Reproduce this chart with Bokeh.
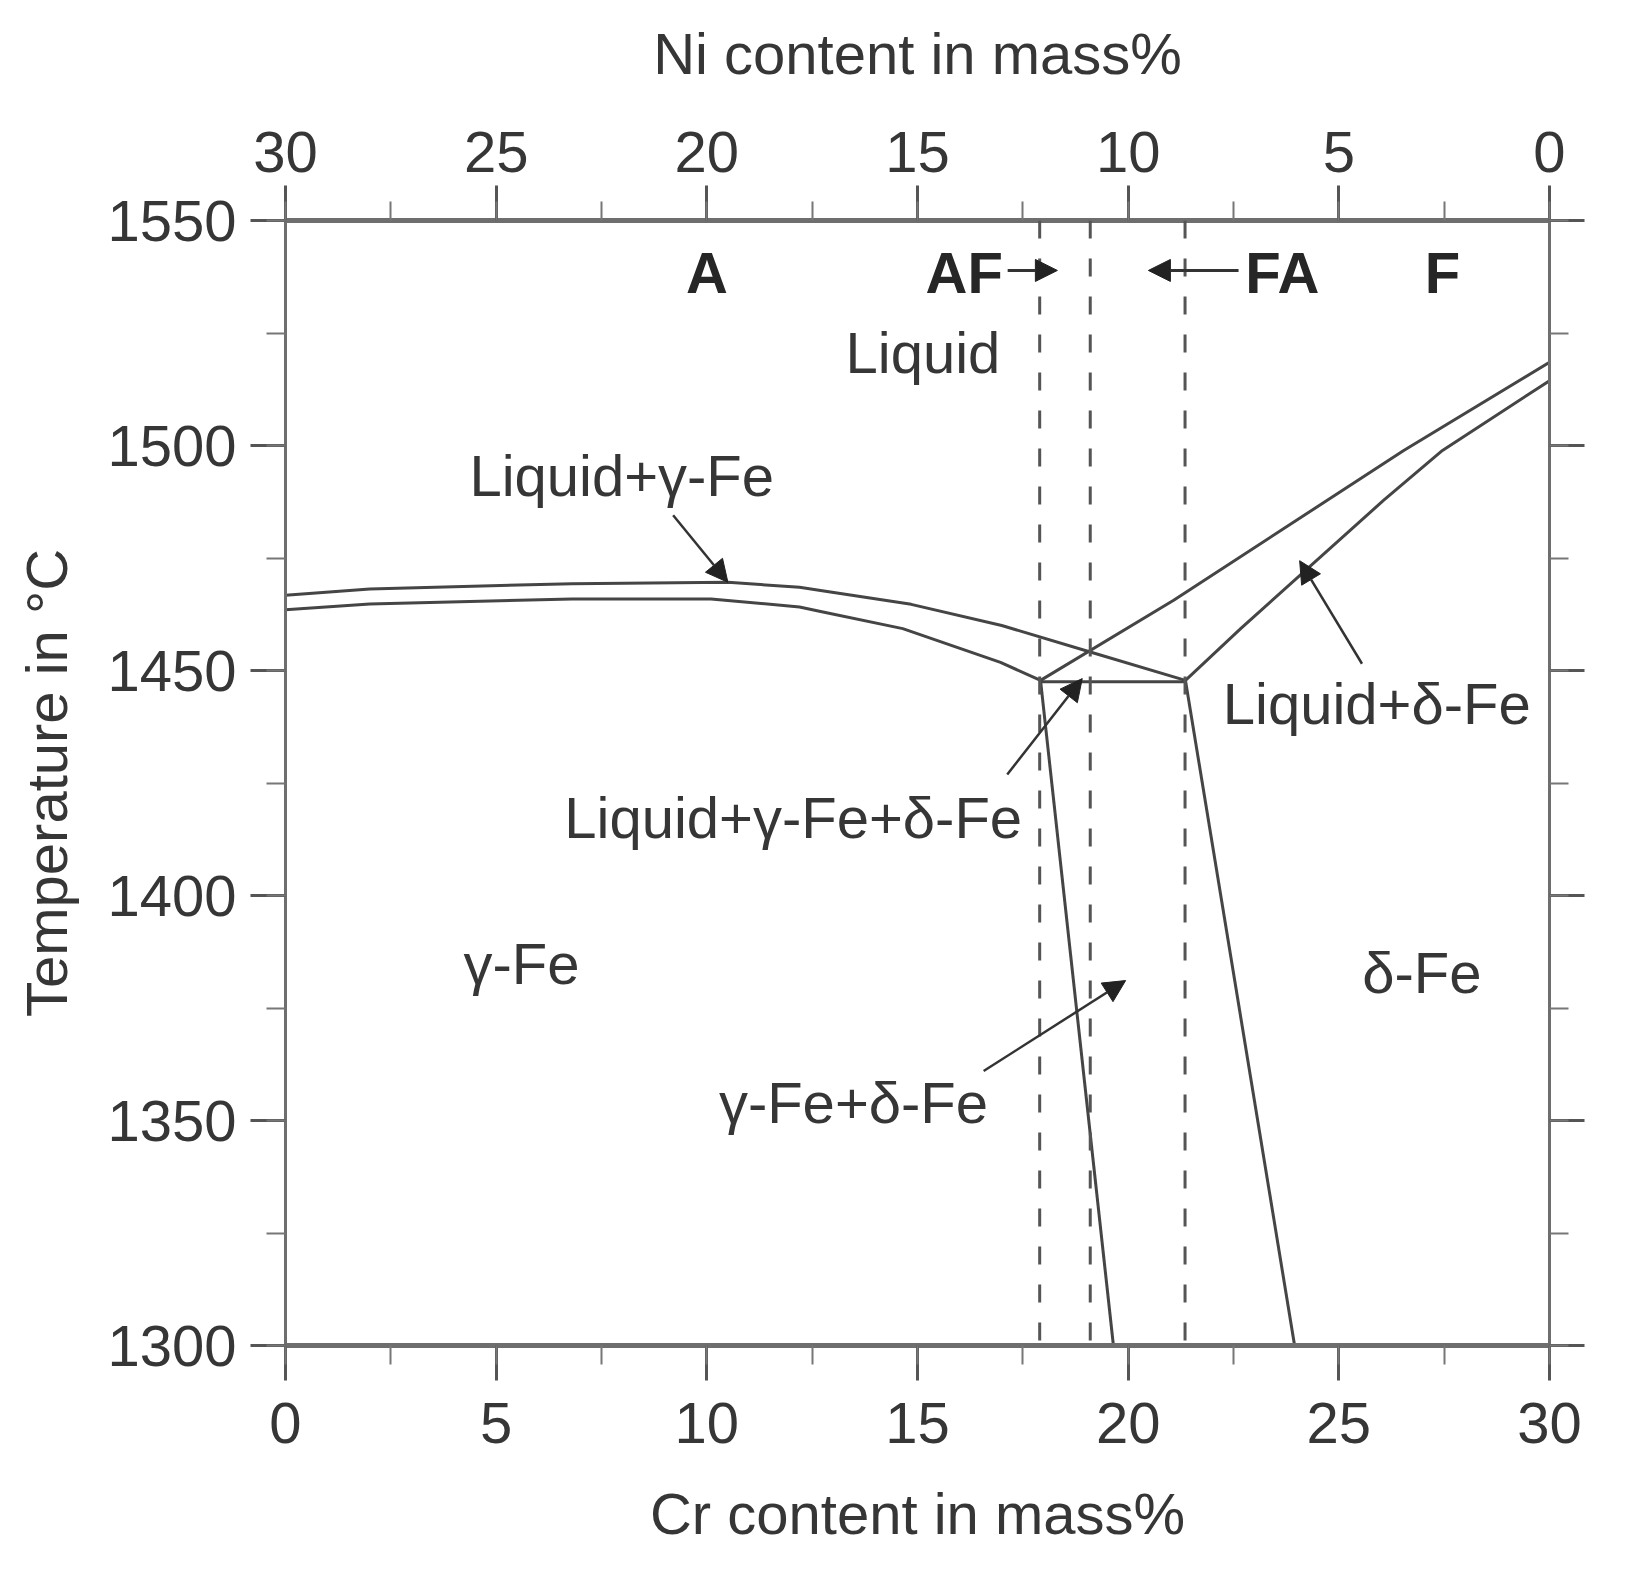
from bokeh.plotting import figure
from bokeh.models import (Range1d, LinearAxis, SingleIntervalTicker, Arrow,
                          NormalHead, ColumnDataSource, Span)
from bokeh.embed import file_html
from bokeh.resources import INLINE
from bokeh.core.properties import value

# ---------------- data (Cr content in mass%, temperature in °C) ----------------
liq_gamma_cr = [0.0, 2.0, 6.8, 10.5, 12.2, 12.7, 14.85, 17.0, 19.1, 21.36]
liq_gamma_t = [1466.7, 1468.1, 1469.3, 1469.6, 1468.5, 1467.8, 1464.7, 1460.0, 1454.1, 1447.8]

sol_gamma_cr = [0.0, 2.0, 6.8, 10.1, 12.2, 12.7, 14.65, 16.97, 17.92]
sol_gamma_t = [1463.5, 1464.8, 1465.9, 1465.9, 1464.1, 1463.1, 1459.3, 1451.8, 1447.8]

liq_delta_cr = [17.92, 21.08, 26.54, 30.0]
liq_delta_t = [1447.8, 1465.6, 1498.9, 1518.5]

sol_delta_cr = [21.36, 22.67, 26.06, 27.46, 30.0]
sol_delta_t = [1447.8, 1459.3, 1487.8, 1498.9, 1514.4]

tie_cr = [17.92, 21.36]
tie_t = [1447.5, 1447.5]

gamma_solvus_cr = [17.92, 19.65]
gamma_solvus_t = [1447.8, 1300.0]

delta_solvus_cr = [21.36, 23.95]
delta_solvus_t = [1447.8, 1300.0]

mode_bounds_cr = [17.9, 19.1, 21.35]

# solidification mode labels and arrows
mode_labels = ["A", "AF", "FA", "F"]
mode_label_cr = [10.0, 16.11, 23.66, 27.46]
mode_label_t = [1538.4, 1538.4, 1538.4, 1538.4]
mode_arrow_from_cr = [17.14, 22.62]
mode_arrow_to_cr = [18.32, 20.48]
mode_arrow_t = [1538.9, 1538.9]

# phase field labels and pointer arrows
phase_labels = ["Liquid", "Liquid+γ-Fe", "Liquid+γ-Fe+δ-Fe", "Liquid+δ-Fe",
                "γ-Fe", "δ-Fe", "γ-Fe+δ-Fe"]
phase_label_cr = [15.13, 7.98, 12.05, 25.9, 5.6, 26.97, 13.48]
phase_label_t = [1520.6, 1493.3, 1417.3, 1442.7, 1385.0, 1383.0, 1354.0]

pointer_from_cr = [9.2, 17.13, 25.55, 16.57]
pointer_from_t = [1484.5, 1426.9, 1451.5, 1361.0]
pointer_to_cr = [10.5, 18.91, 24.07, 19.94]
pointer_to_t = [1469.6, 1448.2, 1474.4, 1381.1]

cr_range = (0, 30)
ni_range = (30, 0)
t_range = (1300, 1550)

# ---------------- styling ----------------
FONT = "Liberation Sans"
TXT = "#363636"
AXC = "#6e6e6e"
LINE = "#454545"
FS = "58px"

p = figure(frame_width=1264, frame_height=1125, output_backend="svg",
           toolbar_location=None,
           x_range=Range1d(*cr_range), y_range=Range1d(*t_range),
           min_border_left=285, min_border_right=76, min_border_top=220,
           min_border_bottom=215)
p.outline_line_color = None
p.xgrid.visible = False
p.ygrid.visible = False
p.background_fill_color = "white"
p.border_fill_color = "white"
p.extra_x_ranges = {"ni": Range1d(*ni_range)}


def style_axis(ax, line_w, standoff=10, title_standoff=20):
    ax.axis_line_color = AXC
    ax.axis_line_width = line_w
    ax.major_tick_line_color = "#555555"
    ax.major_tick_line_width = 3
    ax.minor_tick_line_color = "#777777"
    ax.minor_tick_line_width = 2
    ax.major_tick_in = 0
    ax.major_tick_out = 35
    ax.minor_tick_in = 0
    ax.minor_tick_out = 19
    ax.major_label_text_font = FONT
    ax.major_label_text_font_size = FS
    ax.major_label_text_color = TXT
    ax.major_label_standoff = standoff
    ax.axis_label_text_font = FONT
    ax.axis_label_text_font_size = FS
    ax.axis_label_text_font_style = "normal"
    ax.axis_label_text_color = TXT
    ax.axis_label_standoff = title_standoff


xb = p.xaxis[0]
xb.ticker = SingleIntervalTicker(interval=5, num_minor_ticks=2)
xb.axis_label = "Cr content in mass%"
style_axis(xb, 5, standoff=22, title_standoff=35)

yl = p.yaxis[0]
yl.ticker = SingleIntervalTicker(interval=50, num_minor_ticks=2)
yl.axis_label = "Temperature in °C"
style_axis(yl, 3, standoff=14, title_standoff=25)

xt = LinearAxis(x_range_name="ni", axis_label="Ni content in mass%",
                ticker=SingleIntervalTicker(interval=5, num_minor_ticks=2))
style_axis(xt, 5, standoff=14, title_standoff=43)
p.add_layout(xt, "above")

yr = LinearAxis(ticker=SingleIntervalTicker(interval=50, num_minor_ticks=2))
style_axis(yr, 3, standoff=0, title_standoff=0)
yr.major_label_overrides = {t: "" for t in range(t_range[0], t_range[1] + 1, 50)}
yr.major_label_text_color = None
p.add_layout(yr, "right")

# ---------------- phase boundaries ----------------
for xs, ys in [(liq_gamma_cr, liq_gamma_t), (sol_gamma_cr, sol_gamma_t),
               (liq_delta_cr, liq_delta_t), (sol_delta_cr, sol_delta_t),
               (tie_cr, tie_t), (gamma_solvus_cr, gamma_solvus_t),
               (delta_solvus_cr, delta_solvus_t)]:
    p.line(xs, ys, line_color=LINE, line_width=3, line_join="round")

for c in mode_bounds_cr:
    p.add_layout(Span(location=c, dimension="height", line_color="#555555",
                      line_width=3, line_dash="18 20"))

# ---------------- labels ----------------
mode_src = ColumnDataSource(dict(x=mode_label_cr, y=mode_label_t, t=mode_labels))
p.text(x="x", y="y", text="t", source=mode_src, text_font=value(FONT),
       text_font_size=FS, text_font_style="bold", text_color="#262626",
       text_align="center", text_baseline="alphabetic")

phase_src = ColumnDataSource(dict(x=phase_label_cr, y=phase_label_t, t=phase_labels))
p.text(x="x", y="y", text="t", source=phase_src, text_font=value(FONT),
       text_font_size=FS, text_color=TXT, text_align="center",
       text_baseline="alphabetic")

for x0, x1, y in zip(mode_arrow_from_cr, mode_arrow_to_cr, mode_arrow_t):
    p.add_layout(Arrow(end=NormalHead(size=22, fill_color="#222222",
                                      line_color="#222222", line_width=1),
                       x_start=x0, y_start=y, x_end=x1, y_end=y,
                       line_color="#333333", line_width=3))

for x0, y0, x1, y1 in zip(pointer_from_cr, pointer_from_t, pointer_to_cr, pointer_to_t):
    p.add_layout(Arrow(end=NormalHead(size=22, fill_color="#222222",
                                      line_color="#222222", line_width=1),
                       x_start=x0, y_start=y0, x_end=x1, y_end=y1,
                       line_color="#333333", line_width=2.5))

open("out.html", "w").write(file_html(p, INLINE))
